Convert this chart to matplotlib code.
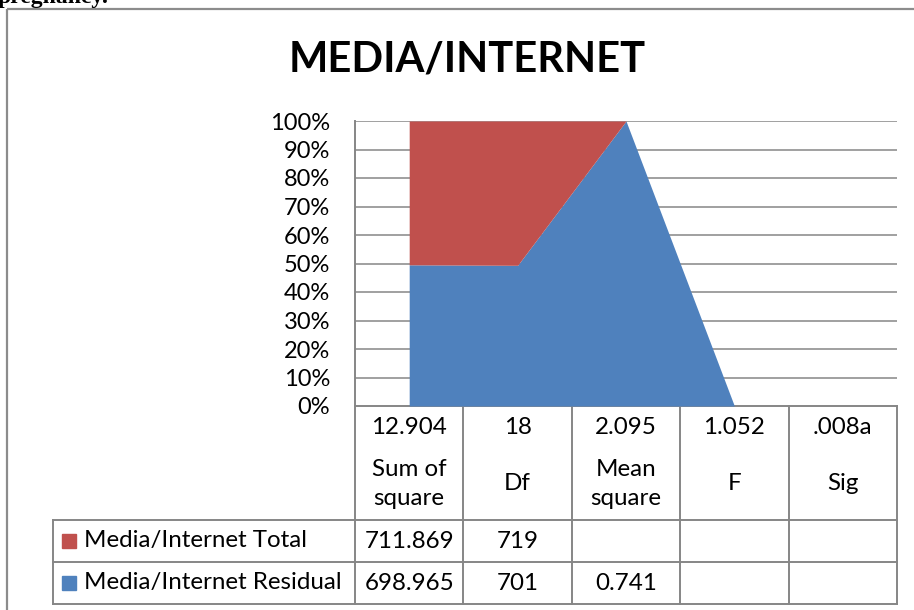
import numpy as np
import matplotlib
matplotlib.use("Agg")
import matplotlib.pyplot as plt

# ---- data ----
title = "MEDIA/INTERNET"
cat_values = ["12.904", "18", "2.095", "1.052", ".008a"]
cat_names = ["Sum of\nsquare", "Df", "Mean\nsquare", "F", "Sig"]
series_names = ["Media/Internet Total", "Media/Internet Residual"]
total_vals = [711.869, 719, None, None, None]
residual_vals = [698.965, 701, 0.741, None, None]
y_ticks = [0, 10, 20, 30, 40, 50, 60, 70, 80, 90, 100]

RED = "#C0504D"
BLUE = "#4F81BD"
GRID = "#868686"
FONT = "Lato"
TFONT = "Lato"

W, H = 914, 610
fig = plt.figure(figsize=(W / 100, H / 100), dpi=100)

# overlay axes in pixel coordinates
ov = fig.add_axes([0, 0, 1, 1])
ov.set_xlim(0, W)
ov.set_ylim(H, 0)
ov.axis("off")

# plot area (pixel box)
L, R, T, B = 355, 897, 121, 406
ax = fig.add_axes([L / W, 1 - B / H, (R - L) / W, (B - T) / H])
ax.set_zorder(2)
ax.patch.set_alpha(0)

t = np.array([0 if v is None else v for v in total_vals], dtype=float)
r = np.array([0 if v is None else v for v in residual_vals], dtype=float)
s = t + r
pb = np.where(s > 0, r / np.where(s > 0, s, 1), 0) * 100
pt = np.where(s > 0, t / np.where(s > 0, s, 1), 0) * 100
x = np.arange(len(cat_values))

ax.fill_between(x, 0, pb, color=BLUE, linewidth=0, zorder=3)
ax.fill_between(x, pb, pb + pt, color=RED, linewidth=0, zorder=3)

fs = 17.4

ax.set_xlim(-0.5, len(cat_values) - 0.5)
ax.set_ylim(0, 100)
ax.set_yticks(y_ticks)
ax.set_yticklabels([f"{v}%" for v in y_ticks], fontsize=17, family=FONT)
ax.tick_params(axis="y", length=0, pad=18)
ax.set_xticks([])
for yv in y_ticks[1:]:
    ax.axhline(yv, color=GRID, lw=1.1, zorder=1)
for sp in ["top", "right", "bottom"]:
    ax.spines[sp].set_visible(False)
ax.spines["left"].set_color(GRID)
ax.spines["left"].set_linewidth(1.4)
ax.spines["left"].set_zorder(4)

# outer frame
ov.plot([7, W], [9, 9], color="#8c8c8c", lw=1.6, solid_capstyle="butt")
ov.plot([7, 7], [9, H], color="#8c8c8c", lw=1.6, solid_capstyle="butt")

# heading of the page above, cut off at the top edge as in the reference
ov.text(-2, 3, "pregnancy.", fontsize=17, fontweight="bold",
        family="Liberation Serif", ha="left", va="baseline")

# title
ov.text(467, 60, title, fontsize=30, fontweight="bold", family=TFONT,
        ha="center", va="center")

# data table
col_w = (R - L) / len(cat_values)
col_x = [L + i * col_w for i in range(len(cat_values) + 1)]
row_y = [B, 520, 562, 604]
lc = GRID
lw = 1.4
ov.plot([L, R], [B, B], color=lc, lw=lw)
for yy in row_y[1:]:
    ov.plot([53, R], [yy, yy], color=lc, lw=lw)
for cx in col_x:
    ov.plot([cx, cx], [B, row_y[3]], color=lc, lw=lw)
ov.plot([53, 53], [row_y[1], row_y[3]], color=lc, lw=lw)

for i, (v, n) in enumerate(zip(cat_values, cat_names)):
    cx = (col_x[i] + col_x[i + 1]) / 2
    ov.text(cx, 427, v, fontsize=fs, family=FONT, ha="center", va="center")
    ov.text(cx, 484, n, fontsize=fs, family=FONT, ha="center", va="center",
            linespacing=1.5)

rows = [(series_names[0], total_vals, RED), (series_names[1], residual_vals, BLUE)]
for j, (name, vals, col) in enumerate(rows):
    cy = (row_y[j + 1] + row_y[j + 2]) / 2
    ov.add_patch(plt.Rectangle((62, cy - 7), 14, 14, color=col))
    ov.text(84, cy, name, fontsize=fs, family=FONT, ha="left", va="center")
    for i, v in enumerate(vals):
        if v is None:
            continue
        cx = (col_x[i] + col_x[i + 1]) / 2
        ov.text(cx, cy, f"{v:g}", fontsize=fs, family=FONT, ha="center", va="center")

fig.savefig("out.png", dpi=100)
